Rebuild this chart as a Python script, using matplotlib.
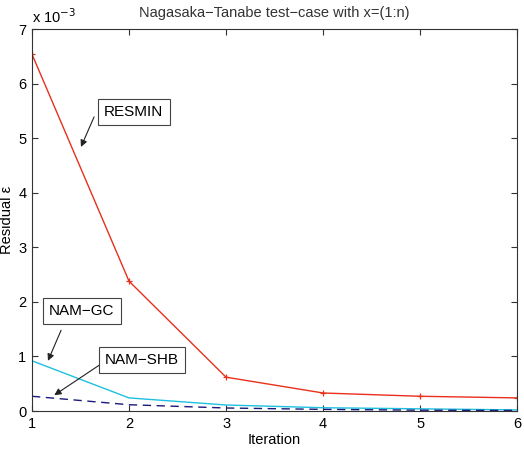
import numpy as np
import matplotlib.pyplot as plt

plt.rcParams["font.family"] = ["Liberation Sans", "DejaVu Sans"]

# residuals (units of 1e-3)
iterations = [1, 2, 3, 4, 5, 6]
resmin = [6.54, 2.38, 0.62, 0.33, 0.27, 0.24]
nam_gc = [0.92, 0.24, 0.11, 0.06, 0.04, 0.02]
nam_shb = [0.27, 0.115, 0.055, 0.03, 0.015, 0.01]

fig = plt.figure(figsize=(5.24, 4.54), dpi=100)
ax = fig.add_axes([0.061, 0.0947, 0.926, 0.8413])

ax.plot(iterations, resmin, "-+", color="#e8301c", lw=1, ms=5, mew=0.9)
ax.plot(iterations, nam_gc, "-", color="#1ec0e0", lw=1)
ax.plot(iterations, nam_shb, "--", color="#1a1a7a", lw=1, dashes=(6, 4))

ax.set_xlim(1, 6)
ax.set_ylim(0, 7)
ax.set_xticks(range(1, 7))
ax.set_yticks(range(0, 8))
ax.tick_params(direction="in", top=True, right=True, labelsize=10.5, length=4,
               color="#333333", pad=4)
for s in ax.spines.values():
    s.set_color("#333333")

ax.set_xlabel("Iteration", fontsize=10.5, labelpad=2)
ax.set_ylabel("Residual \u03b5", fontsize=10.5)
ax.yaxis.set_label_coords(-0.052, 0.5)
ax.yaxis.label.set_va("center")
ax.set_title("Nagasaka\u2212Tanabe test\u2212case with x=(1:n)", fontsize=10.5,
             color="#333333", pad=9)
ax.text(0.0, 1.008, r"x 10$^{-3}$", transform=ax.transAxes, fontsize=10.5,
        ha="left", va="bottom")

box = dict(boxstyle="square,pad=0.4", fc="white", ec="#444444", lw=0.8)
arrow = dict(arrowstyle="-|>", color="#222222", lw=0.8, mutation_scale=10,
             shrinkA=0, shrinkB=0)
ax.annotate("", xy=(1.505, 4.84), xytext=(1.64, 5.39), arrowprops=arrow)
ax.text(2.05, 5.48, "RESMIN", ha="center", va="center", fontsize=11, bbox=box)
ax.annotate("", xy=(1.165, 0.92), xytext=(1.30, 1.48), arrowprops=arrow)
ax.text(1.515, 1.83, "NAM\u2212GC", ha="center", va="center", fontsize=11, bbox=box)
ax.annotate("", xy=(1.23, 0.29), xytext=(1.71, 0.86), arrowprops=arrow)
ax.text(2.13, 0.93, "NAM\u2212SHB", ha="center", va="center", fontsize=11, bbox=box)

fig.savefig("out.png", dpi=100)
